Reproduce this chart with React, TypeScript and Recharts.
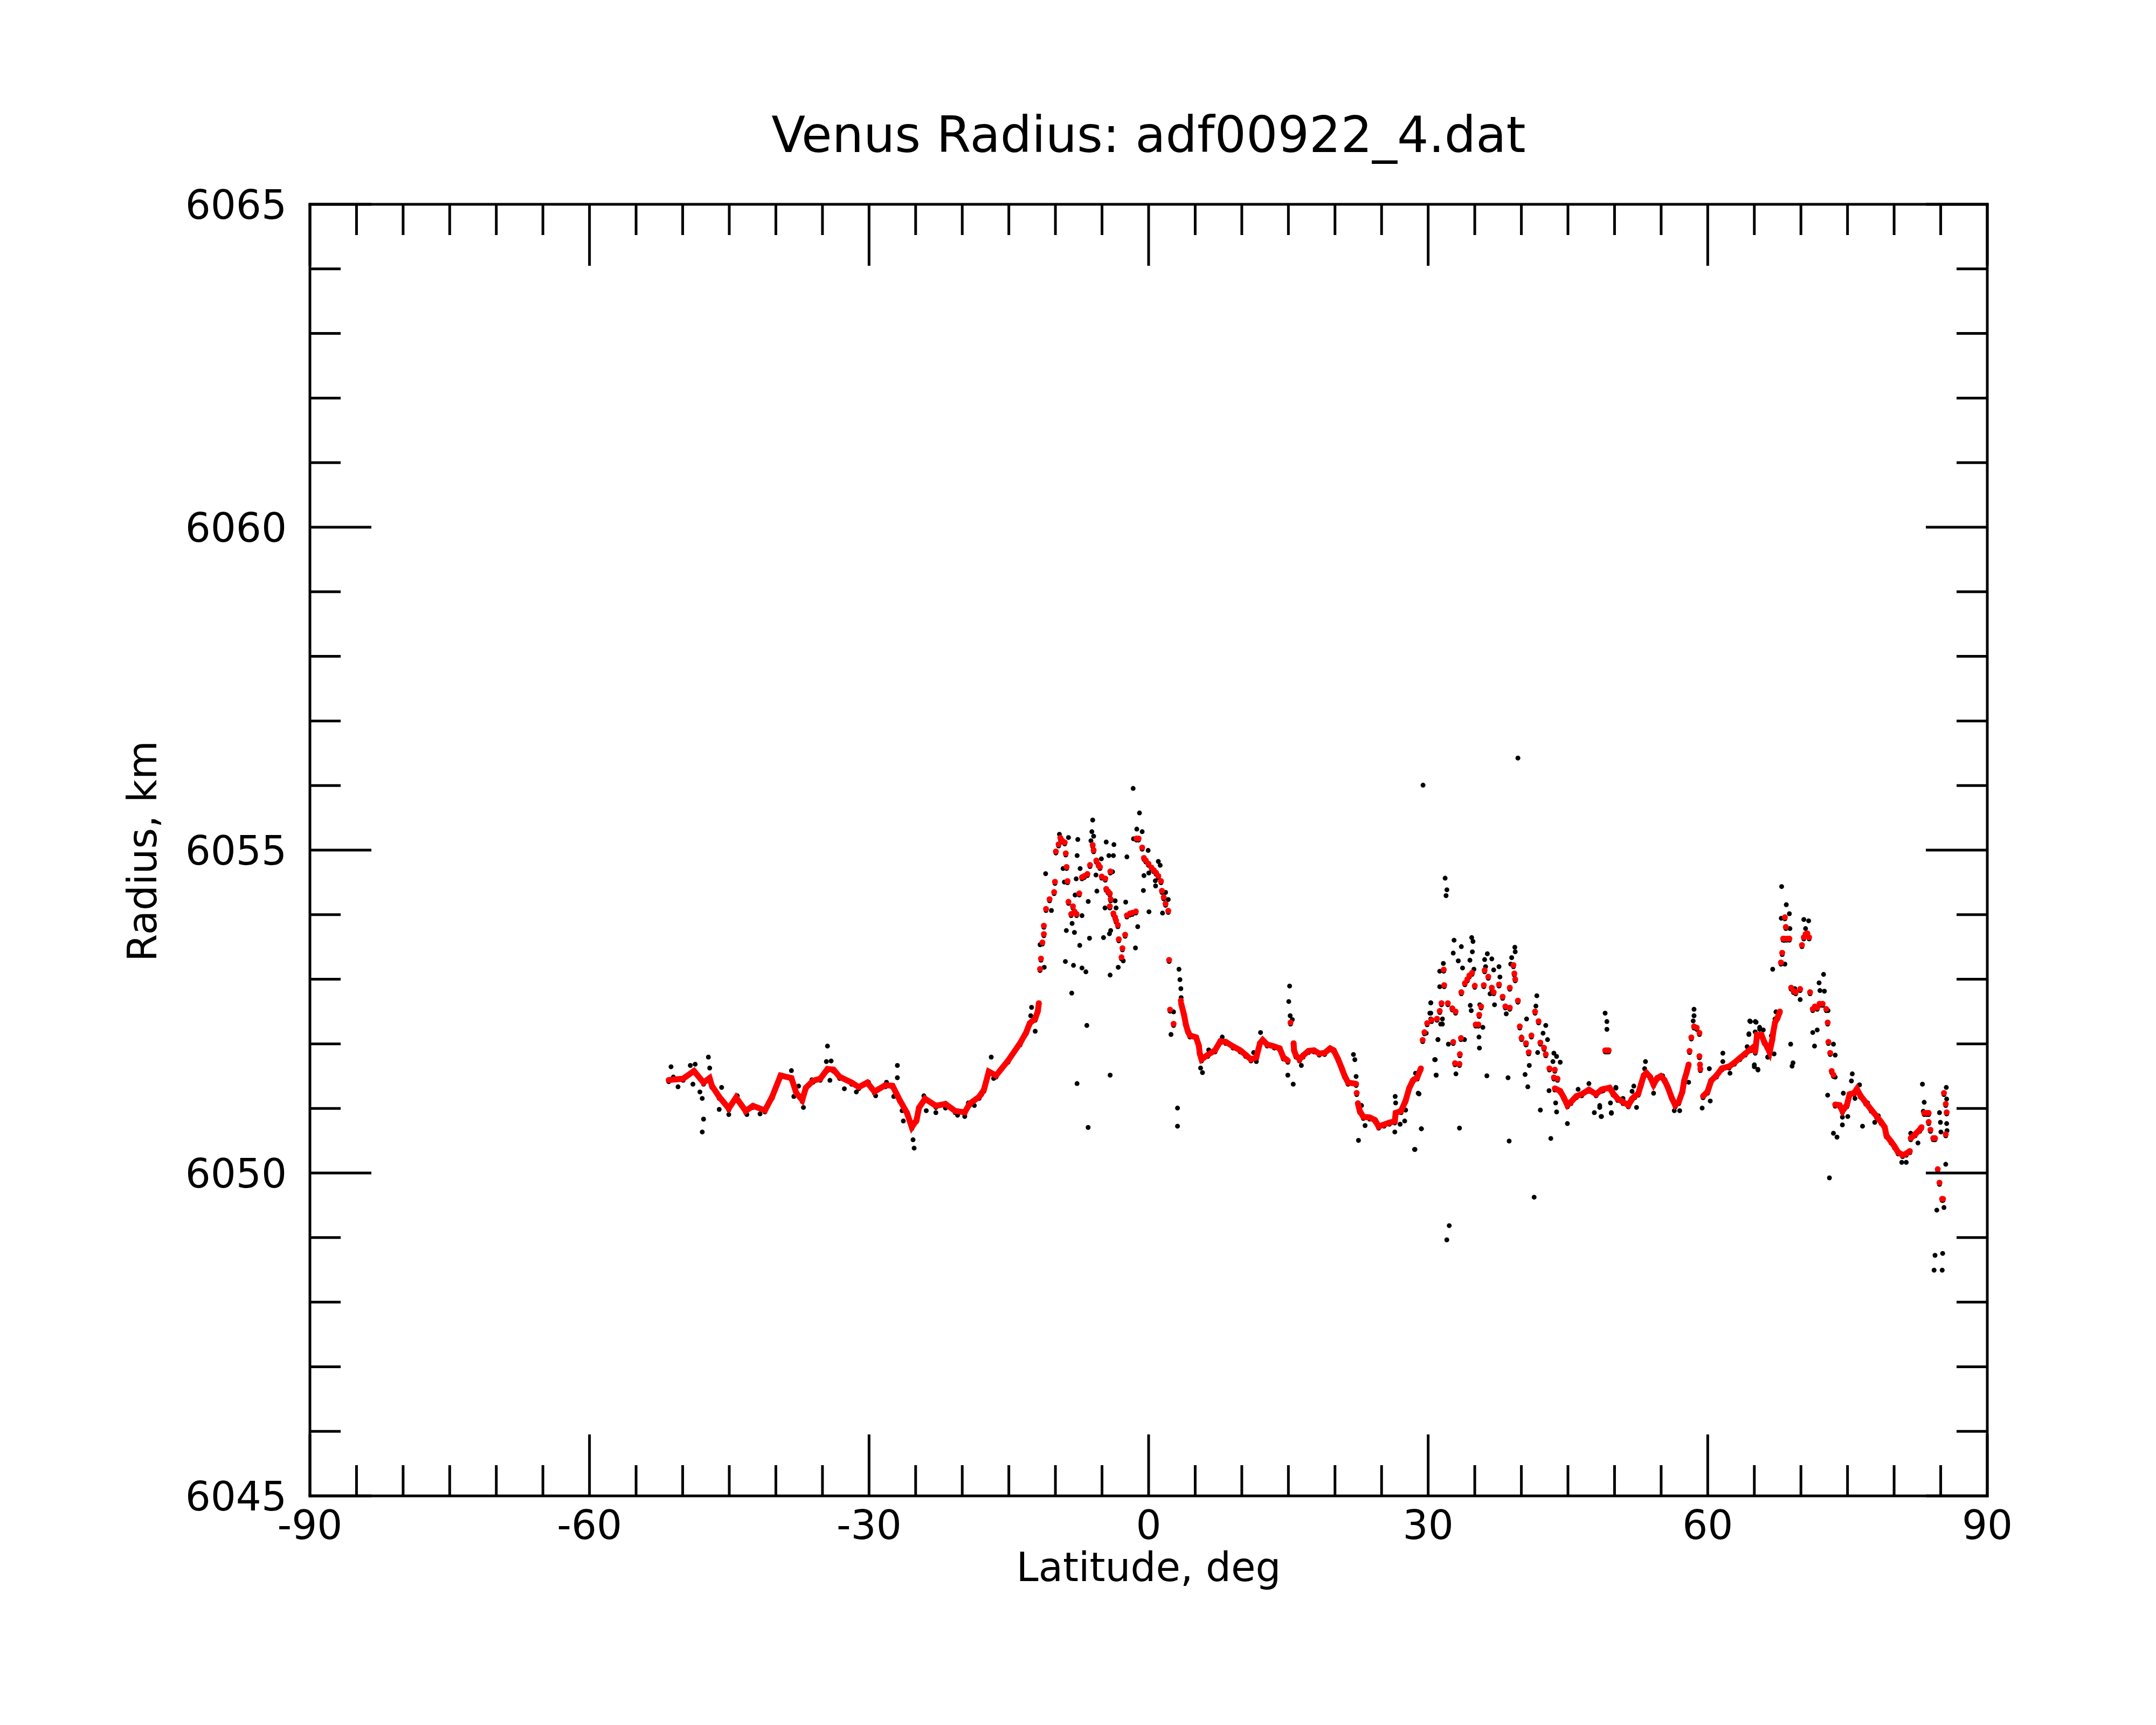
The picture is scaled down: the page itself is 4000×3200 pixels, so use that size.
import { Scatter, ScatterChart, XAxis, YAxis } from "recharts";

type Pair = [number, number];

const FONT = "DejaVu Sans, Verdana, sans-serif";

const X_TICKS = [
  -90, -85, -80, -75, -70, -65, -60, -55, -50, -45, -40, -35, -30, -25, -20, -15, -10, -5, 0,
  5, 10, 15, 20, 25, 30, 35, 40, 45, 50, 55, 60, 65, 70, 75, 80, 85, 90,
];
const X_LABELS = [-90, -60, -30, 0, 30, 60, 90];
const Y_TICKS = [
  6045, 6046, 6047, 6048, 6049, 6050, 6051, 6052, 6053, 6054, 6055, 6056, 6057, 6058, 6059,
  6060, 6061, 6062, 6063, 6064, 6065,
];
const Y_LABELS = [6045, 6050, 6055, 6060, 6065];

// filtered radius (red), continuous runs
const trackSouth: Pair[] = [
  [-51.5, 6051.44], [-49.95, 6051.46], [-48.79, 6051.58], [-47.76, 6051.4], [-47.11, 6051.47],
  [-46.86, 6051.35], [-46.08, 6051.18], [-45.05, 6051.0], [-44.27, 6051.17], [-43.24, 6050.96],
  [-42.46, 6051.04], [-41.17, 6050.97], [-40.4, 6051.18], [-39.49, 6051.51], [-38.33, 6051.47],
  [-37.81, 6051.24], [-37.17, 6051.13], [-36.78, 6051.32], [-36.0, 6051.43], [-35.23, 6051.46],
  [-34.46, 6051.61], [-33.81, 6051.6], [-33.16, 6051.49], [-31.87, 6051.4], [-31.1, 6051.33],
  [-30.19, 6051.4], [-29.42, 6051.26], [-28.25, 6051.36], [-27.48, 6051.35], [-26.71, 6051.13],
  [-25.93, 6050.93], [-25.41, 6050.71], [-24.9, 6050.82], [-24.64, 6051.01], [-23.99, 6051.15],
  [-22.83, 6051.04], [-21.8, 6051.07], [-20.76, 6050.96], [-19.73, 6050.94], [-19.22, 6051.07],
  [-18.18, 6051.18], [-17.67, 6051.29], [-17.15, 6051.57], [-16.37, 6051.51], [-15.08, 6051.74],
  [-13.79, 6052.01], [-13.13, 6052.18], [-12.75, 6052.32], [-12.17, 6052.39], [-11.88, 6052.51],
  [-11.78, 6052.63],
];
const trackEq: Pair[] = [
  [3.5, 6052.62], [3.8, 6052.45], [4.0, 6052.3], [4.2, 6052.2], [4.43, 6052.13], [5.1, 6052.1],
  [5.39, 6051.97], [5.49, 6051.85], [5.68, 6051.76], [6.35, 6051.83], [7.13, 6051.9], [7.7, 6052.04],
  [8.28, 6052.03], [9.06, 6051.96], [9.83, 6051.9], [10.41, 6051.83], [10.98, 6051.76],
  [11.56, 6051.79], [11.95, 6052.01], [12.24, 6052.06], [12.72, 6051.99], [13.49, 6051.96],
  [14.07, 6051.93], [14.46, 6051.79], [14.94, 6051.74],
];
const track15: Pair[] = [
  [15.56, 6052.01], [15.61, 6051.9], [15.81, 6051.82], [16.19, 6051.76], [16.58, 6051.82],
  [17.16, 6051.89], [17.74, 6051.9], [18.31, 6051.85], [18.89, 6051.86], [19.47, 6051.93],
  [19.86, 6051.9], [20.34, 6051.76], [20.73, 6051.62], [21.02, 6051.51], [21.4, 6051.4],
  [22.27, 6051.38],
];
const track23: Pair[] = [
  [22.46, 6051.08], [22.66, 6050.96], [23.04, 6050.87], [23.72, 6050.86], [24.29, 6050.82],
  [24.68, 6050.72], [25.26, 6050.75], [25.84, 6050.78], [26.42, 6050.8], [26.51, 6050.93],
  [27.09, 6050.96], [27.58, 6051.12], [27.96, 6051.31], [28.35, 6051.43], [28.83, 6051.48],
  [29.22, 6051.62],
];
const track44: Pair[] = [
  [43.59, 6051.31], [44.17, 6051.27], [44.55, 6051.17], [44.94, 6051.05], [45.32, 6051.1],
  [45.9, 6051.19], [46.48, 6051.22], [47.25, 6051.29], [48.02, 6051.22], [48.6, 6051.29],
  [48.79, 6051.3], [49.47, 6051.32], [49.85, 6051.23], [50.33, 6051.15], [50.91, 6051.1],
  [51.49, 6051.05], [51.88, 6051.15], [52.17, 6051.19], [52.55, 6051.23], [52.84, 6051.37],
  [53.13, 6051.51], [53.42, 6051.55], [53.81, 6051.49], [54.19, 6051.37], [54.58, 6051.47],
  [54.96, 6051.5], [55.35, 6051.44], [55.74, 6051.32], [56.12, 6051.17], [56.51, 6051.05],
  [56.89, 6051.1], [57.28, 6051.26], [57.47, 6051.43], [57.76, 6051.57], [57.95, 6051.68],
];
const track59: Pair[] = [
  [59.5, 6051.19], [59.98, 6051.26], [60.37, 6051.43], [60.94, 6051.51], [61.52, 6051.62],
  [62.3, 6051.65], [62.87, 6051.71], [63.45, 6051.78], [64.03, 6051.85], [64.61, 6051.92],
  [65.0, 6051.96], [65.1, 6051.88], [65.29, 6052.14], [65.77, 6052.14], [66.06, 6052.03],
  [66.35, 6051.96], [66.64, 6051.87], [66.93, 6052.07], [67.03, 6052.18], [67.22, 6052.33],
  [67.51, 6052.41], [67.74, 6052.5],
];
const track73: Pair[] = [
  [73.68, 6051.06], [74.16, 6051.05], [74.45, 6050.96], [74.93, 6051.05], [75.22, 6051.22],
  [75.71, 6051.24], [76.0, 6051.3], [76.38, 6051.2], [76.96, 6051.09], [77.54, 6050.98],
  [78.12, 6050.88], [78.6, 6050.79], [78.99, 6050.71], [79.18, 6050.58], [79.66, 6050.49],
  [80.05, 6050.41], [80.43, 6050.32], [80.91, 6050.28], [81.3, 6050.3], [81.69, 6050.34],
];
const track82: Pair[] = [[81.78, 6050.54], [82.26, 6050.6], [82.75, 6050.67], [82.94, 6050.71]];

// filtered radius (red), isolated points
const redPeak: Pair[] = [
  [-11.65, 6053.16], [-11.55, 6053.32], [-11.4, 6053.57], [-11.24, 6053.7], [-11.24, 6053.83],
  [-11.01, 6054.09], [-10.63, 6054.24], [-10.14, 6054.35], [-10.05, 6054.51], [-9.95, 6054.98],
  [-9.66, 6055.09], [-9.47, 6055.19], [-9.3, 6055.15], [-9.0, 6055.12], [-8.89, 6054.95],
  [-8.8, 6054.74], [-8.7, 6054.52], [-8.6, 6054.2], [-8.31, 6054.01], [-8.12, 6054.13],
  [-7.95, 6054.05], [-7.73, 6054.01], [-7.44, 6054.33], [-7.15, 6054.58], [-6.9, 6054.6],
  [-6.57, 6054.63], [-6.29, 6054.77], [-6.0, 6055.08], [-5.9, 6055.0], [-5.61, 6054.84],
  [-5.4, 6054.78], [-5.22, 6054.74], [-5.03, 6054.59], [-4.65, 6054.56], [-4.55, 6054.4],
  [-4.35, 6054.36], [-4.16, 6054.33], [-4.07, 6054.24], [-4.11, 6054.67], [-4.16, 6054.13],
  [-3.78, 6054.02], [-3.6, 6053.96], [-3.49, 6053.91], [-3.3, 6053.84], [-3.2, 6053.62],
  [-2.91, 6053.34], [-2.81, 6053.48], [-2.52, 6053.69], [-2.33, 6053.99], [-2.0, 6054.02],
  [-1.75, 6054.03], [-1.37, 6054.05], [-1.3, 6055.18], [-1.08, 6055.18], [-0.69, 6055.04],
  [-0.5, 6054.88], [-0.3, 6054.84], [-0.02, 6054.79], [0.3, 6054.73], [0.56, 6054.69],
  [0.8, 6054.65], [1.04, 6054.6], [1.33, 6054.52], [1.43, 6054.37], [1.62, 6054.27],
  [1.82, 6054.17], [2.11, 6054.06], [2.2, 6053.3], [2.3, 6052.53], [2.68, 6052.31],
  [3.46, 6052.67],
];
const redNorth: Pair[] = [
  [15.23, 6052.33], [22.33, 6051.24], [29.41, 6052.06], [29.6, 6052.18], [29.89, 6052.32],
  [30.37, 6052.37], [30.95, 6052.39], [31.24, 6052.51], [31.43, 6052.63], [31.72, 6052.91],
  [31.67, 6053.15], [32.11, 6052.63], [32.59, 6052.55], [32.94, 6052.5], [32.69, 6052.03],
  [33.52, 6052.09], [33.4, 6051.84], [32.88, 6051.7], [33.36, 6051.69], [33.56, 6052.8],
  [33.94, 6052.94], [34.2, 6053.0], [34.42, 6053.06], [34.71, 6053.1], [35.0, 6052.9],
  [35.68, 6052.58], [35.48, 6052.45], [35.1, 6052.3], [35.39, 6052.3], [36.06, 6053.14],
  [36.45, 6053.04], [35.97, 6052.91], [36.83, 6052.87], [37.03, 6052.8], [37.6, 6052.92],
  [37.99, 6052.73], [38.28, 6052.58], [38.76, 6052.56], [38.76, 6052.87], [39.15, 6053.22],
  [39.25, 6053.09], [39.34, 6053.0], [39.63, 6052.67], [39.83, 6052.27], [40.02, 6052.09],
  [40.5, 6052.01], [40.79, 6051.87], [41.08, 6052.13], [41.47, 6052.5], [41.85, 6052.35],
  [42.04, 6052.02], [42.43, 6051.94], [42.62, 6051.84], [43.01, 6051.62], [43.59, 6051.6],
  [43.49, 6051.48], [43.88, 6051.46], [49.0, 6051.9], [49.2, 6051.9], [49.37, 6051.9],
  [58.05, 6051.89], [58.24, 6052.1], [58.53, 6052.27], [58.82, 6052.25], [59.11, 6052.17],
  [59.11, 6051.81], [59.17, 6051.68], [59.21, 6051.61], [67.86, 6053.26], [67.99, 6053.41],
  [68.09, 6053.63], [68.2, 6053.63], [68.38, 6053.81], [68.28, 6053.96], [68.5, 6053.63],
  [68.76, 6053.63], [68.95, 6052.87], [69.2, 6052.82], [69.44, 6052.8], [69.92, 6052.85],
  [70.11, 6053.53], [70.31, 6053.65], [70.5, 6053.7], [70.69, 6053.71], [70.88, 6053.65],
  [70.98, 6052.8], [71.27, 6052.54], [71.5, 6052.58], [71.75, 6052.56], [72.0, 6052.62],
  [72.33, 6052.62], [72.72, 6052.54], [72.87, 6052.33], [72.95, 6052.03], [73.14, 6051.86],
  [73.3, 6051.58], [73.49, 6051.52], [83.23, 6050.93], [83.5, 6050.93], [83.71, 6050.93],
  [83.71, 6050.79], [83.9, 6050.67], [84.2, 6050.54], [84.39, 6050.54], [84.68, 6050.06],
  [84.87, 6049.85], [85.15, 6049.6], [85.25, 6049.6], [85.54, 6050.6], [85.64, 6050.94],
  [85.54, 6051.07], [85.35, 6051.24],
];

// raw radius (black) away from the filtered track
const rawSouth: Pair[] = [
  [-51.25, 6051.67], [-51.0, 6051.51], [-50.5, 6051.36], [-49.18, 6051.69], [-48.66, 6051.71],
  [-48.9, 6051.4], [-47.24, 6051.82], [-47.1, 6051.65], [-48.15, 6051.28], [-47.9, 6051.18],
  [-47.76, 6050.86], [-47.9, 6050.66], [-46.08, 6051.01], [-45.82, 6051.35], [-45.05, 6050.93],
  [-44.14, 6051.22], [-43.11, 6050.93], [-41.7, 6050.94], [-39.36, 6051.54], [-38.33, 6051.61],
  [-37.56, 6051.37], [-38.07, 6051.21], [-37.04, 6051.04], [-36.13, 6051.47], [-34.46, 6051.99],
  [-34.58, 6051.75], [-34.07, 6051.76], [-34.2, 6051.46], [-32.65, 6051.33], [-31.36, 6051.28],
  [-30.06, 6051.43], [-29.29, 6051.22], [-28.13, 6051.43], [-26.96, 6051.69], [-26.96, 6051.5],
  [-27.35, 6051.21], [-26.45, 6050.99], [-26.32, 6050.83], [-25.28, 6050.54], [-25.16, 6050.41],
  [-24.12, 6051.22], [-23.86, 6050.99], [-22.83, 6050.96], [-21.8, 6051.03], [-20.5, 6050.92],
  [-19.73, 6050.9], [-19.34, 6051.11], [-18.7, 6051.07], [-17.92, 6051.24], [-16.89, 6051.82],
  [-16.63, 6051.49],
];
const rawPeak: Pair[] = [
  [-1.66, 6055.98], [-0.98, 6055.6], [-6.0, 6055.49], [-1.27, 6055.35], [-0.69, 6055.31],
  [-9.57, 6055.27], [-8.6, 6055.22], [-7.6, 6055.19], [-6.09, 6055.31], [-5.9, 6055.24],
  [-6.19, 6055.17], [-4.55, 6055.15], [-3.72, 6055.11], [-1.62, 6055.2], [-0.05, 6055.02],
  [-7.67, 6054.94], [-4.26, 6054.94], [-3.78, 6054.94], [-2.33, 6054.92], [-5.07, 6054.89],
  [-11.05, 6054.66], [-9.18, 6054.74], [-7.35, 6054.74], [-5.65, 6054.64], [-3.87, 6054.69],
  [1.04, 6054.85], [1.24, 6054.79], [-0.5, 6054.63], [0.02, 6054.67], [0.72, 6054.55],
  [0.75, 6054.47], [-7.77, 6054.58], [-9.04, 6054.53], [-5.55, 6054.39], [-7.89, 6054.33],
  [-0.56, 6054.4], [1.82, 6054.37], [-6.48, 6054.23], [-3.59, 6054.24], [-2.46, 6054.22],
  [2.11, 6054.26], [-10.43, 6054.09], [-4.68, 6054.13], [-3.49, 6054.13], [-7.15, 6054.01],
  [0.04, 6054.07], [1.49, 6054.05], [-8.21, 6053.89], [-1.17, 6053.84], [-8.83, 6053.78],
  [-7.96, 6053.75], [-4.07, 6053.78], [-4.2, 6053.73], [-6.34, 6053.66], [-4.84, 6053.67],
  [-7.39, 6053.55], [-1.41, 6053.51], [-11.65, 6053.56], [-8.93, 6053.3], [-8.06, 6053.24],
  [-7.15, 6053.2], [-6.73, 6053.14], [-3.26, 6053.21], [-4.13, 6053.09], [-2.72, 6053.31],
  [-11.2, 6053.21], [3.26, 6053.18], [3.36, 6053.02], [3.46, 6052.88], [3.49, 6052.74],
  [-8.25, 6052.81], [-6.63, 6052.31], [-12.56, 6052.59], [-12.65, 6052.46], [-12.17, 6052.22],
  [2.4, 6052.17], [2.68, 6052.52], [-7.68, 6051.41], [-6.49, 6050.73], [-4.13, 6051.54],
  [3.1, 6051.03], [3.1, 6050.75],
];
const rawMid: Pair[] = [
  [15.13, 6052.92], [15.04, 6052.68], [15.19, 6052.46], [15.42, 6052.4], [12.01, 6052.2],
  [7.9, 6052.13], [6.45, 6051.93], [5.78, 6051.58], [5.58, 6051.65], [14.94, 6051.54],
  [15.52, 6051.4], [11.27, 6051.89], [11.56, 6051.75], [16.39, 6051.69], [21.98, 6051.86],
  [22.13, 6051.78], [22.27, 6051.52], [22.52, 6050.53], [22.85, 6051.07], [23.23, 6050.76],
  [26.46, 6051.21], [26.51, 6051.11], [26.42, 6050.66], [26.99, 6050.78], [27.48, 6050.83],
  [28.58, 6050.39], [29.27, 6050.71], [28.64, 6051.57], [29.02, 6051.25], [30.28, 6052.66],
  [30.28, 6052.5], [30.76, 6051.78], [30.86, 6051.54], [31.05, 6052.09], [31.34, 6052.33],
  [31.24, 6052.91],
];
const rawNorth: Pair[] = [
  [29.45, 6056.03], [39.63, 6056.45], [31.82, 6054.59], [32.01, 6054.41], [31.92, 6054.32],
  [32.78, 6053.63], [33.56, 6053.53], [34.67, 6053.67], [34.81, 6053.61], [32.69, 6053.43],
  [34.74, 6053.45], [36.35, 6053.42], [36.06, 6053.33], [36.83, 6053.34], [39.3, 6053.52],
  [39.34, 6053.45], [38.96, 6053.36], [31.63, 6053.27], [33.23, 6053.31], [34.48, 6053.32],
  [33.69, 6053.2], [34.91, 6053.18], [36.16, 6053.22], [37.03, 6053.17], [37.6, 6053.22],
  [37.7, 6053.06], [38.86, 6053.26], [31.24, 6053.15], [41.66, 6052.77], [41.56, 6052.61],
  [30.28, 6052.66], [31.43, 6052.66], [34.52, 6052.62], [34.62, 6052.54], [35.54, 6052.63],
  [36.64, 6052.8], [37.12, 6052.63], [38.38, 6052.49], [30.18, 6052.5], [30.28, 6052.41],
  [31.53, 6052.41], [31.53, 6052.33], [40.56, 6052.41], [42.62, 6052.31], [35.87, 6052.28],
  [29.79, 6052.19], [42.33, 6052.19], [42.81, 6052.09], [35.45, 6052.13], [31.05, 6052.09],
  [32.17, 6052.02], [33.9, 6052.09], [35.5, 6051.96], [40.02, 6052.13], [40.5, 6052.01],
  [41.75, 6051.89], [43.49, 6051.88], [43.78, 6051.83], [43.39, 6051.75], [44.17, 6051.74],
  [30.7, 6051.78], [32.98, 6051.56], [30.86, 6051.54], [40.85, 6051.69], [40.4, 6051.55],
  [36.3, 6051.53], [38.57, 6051.5], [40.69, 6051.36], [42.97, 6051.3], [47.25, 6051.41],
  [46.09, 6051.32], [50.15, 6051.34], [28.44, 6051.48], [28.93, 6051.26], [27.58, 6051.0],
  [43.68, 6051.11], [43.78, 6050.97], [42.04, 6051.0], [44.94, 6050.79], [48.41, 6051.07],
  [47.83, 6050.96], [48.56, 6050.9], [49.66, 6050.95], [29.27, 6050.71], [33.36, 6050.72],
  [28.54, 6050.39], [38.69, 6050.52], [43.16, 6050.56], [41.37, 6049.65], [32.26, 6049.21],
  [32.0, 6048.99], [48.99, 6052.5], [49.18, 6052.37], [49.18, 6052.25],
];
const rawFar: Pair[] = [
  [48.6, 6050.9], [48.41, 6051.04], [49.66, 6050.96], [49.56, 6051.11], [50.14, 6051.35],
  [50.91, 6051.18], [52.36, 6051.04], [51.88, 6051.29], [52.07, 6051.37], [53.32, 6051.75],
  [53.23, 6051.64], [54.19, 6051.26], [55.16, 6051.53], [56.41, 6050.99], [56.99, 6050.99],
  [58.53, 6052.56], [58.53, 6052.46], [58.44, 6052.38], [57.95, 6051.43], [59.4, 6051.03],
  [60.27, 6051.14], [60.17, 6051.64], [61.62, 6051.88], [61.62, 6051.75], [62.39, 6051.57],
  [64.51, 6052.38], [65.19, 6052.36], [64.42, 6052.17], [65.09, 6052.21], [65.57, 6052.28],
  [65.0, 6051.67], [65.38, 6051.63], [66.44, 6051.82], [66.83, 6052.15], [67.93, 6054.46],
  [68.43, 6054.18], [68.76, 6054.04], [67.89, 6053.97], [68.82, 6053.81], [68.28, 6053.63],
  [67.99, 6053.41], [68.28, 6053.26], [66.97, 6053.18], [70.31, 6053.95], [70.83, 6053.93],
  [70.5, 6053.81], [72.43, 6053.1], [71.95, 6052.97], [72.04, 6052.85], [72.52, 6052.84],
  [69.34, 6052.88], [69.92, 6052.71], [72.91, 6052.54], [71.75, 6052.24], [71.27, 6052.2],
  [71.46, 6051.99], [68.9, 6052.02], [69.15, 6051.73], [69.05, 6051.68], [64.58, 6052.37],
  [65.1, 6052.37], [64.42, 6052.18], [65.58, 6052.25], [65.96, 6052.24], [67.32, 6052.52],
  [67.22, 6052.41], [64.23, 6051.98], [65.0, 6051.7], [65.39, 6051.62], [66.45, 6051.82],
  [67.12, 6051.87], [73.49, 6052.02], [73.68, 6051.85], [73.68, 6051.51], [72.87, 6051.23],
  [73.49, 6050.64], [73.87, 6050.58], [73.06, 6049.95], [74.55, 6051.26], [74.45, 6050.89],
  [74.45, 6050.77], [75.03, 6050.9], [75.51, 6051.56], [75.42, 6051.45], [76.29, 6051.39],
  [75.8, 6051.18], [76.61, 6050.75], [77.15, 6051.11], [77.35, 6051.03], [78.31, 6050.91],
  [77.92, 6050.81], [80.82, 6050.19], [81.3, 6050.19], [81.78, 6050.64], [82.56, 6050.49],
  [83.04, 6051.4], [83.23, 6051.12], [83.13, 6050.98], [84.87, 6050.96], [84.97, 6050.81],
  [85.02, 6050.66], [85.6, 6051.35], [85.64, 6051.17], [85.64, 6050.79], [85.68, 6050.68],
  [85.54, 6050.16], [84.58, 6049.45], [85.35, 6049.49], [84.39, 6048.75], [85.21, 6048.78],
  [84.29, 6048.52], [85.16, 6048.52],
];

const toPoints = (pairs: Pair[]) => pairs.map(([lat, r]) => ({ lat, r }));

const tracks = [trackSouth, trackEq, track15, track23, track44, track59, track73, track82];
const rawData = toPoints([
  ...tracks.flat(),
  ...redPeak,
  ...redNorth,
  ...rawSouth,
  ...rawPeak,
  ...rawMid,
  ...rawNorth,
  ...rawFar,
]);
const redLoose = toPoints([...redPeak, ...redNorth]);

const MAJOR = 114;
const MINOR = 57;
const LABEL_SIZE = 74;

const BottomTick = (props: any) => {
  const { x, y, payload } = props;
  const major = X_LABELS.includes(payload.value);
  return (
    <g>
      <line x1={x} x2={x} y1={y} y2={y - (major ? MAJOR : MINOR)} stroke="#000" strokeWidth={5} />
      {major && (
        <text x={x} y={y + 80} textAnchor="middle" fontSize={LABEL_SIZE} fontFamily={FONT} fill="#000">
          {payload.value}
        </text>
      )}
    </g>
  );
};

const TopTick = (props: any) => {
  const { x, y, payload } = props;
  const major = X_LABELS.includes(payload.value);
  return <line x1={x} x2={x} y1={y} y2={y + (major ? MAJOR : MINOR)} stroke="#000" strokeWidth={5} />;
};

const LeftTick = (props: any) => {
  const { x, y, payload } = props;
  const major = Y_LABELS.includes(payload.value);
  return (
    <g>
      <line x1={x} x2={x + (major ? MAJOR : MINOR)} y1={y} y2={y} stroke="#000" strokeWidth={5} />
      {major && (
        <text x={x - 43} y={y + 27} textAnchor="end" fontSize={LABEL_SIZE} fontFamily={FONT} fill="#000">
          {payload.value}
        </text>
      )}
    </g>
  );
};

const RightTick = (props: any) => {
  const { x, y, payload } = props;
  const major = Y_LABELS.includes(payload.value);
  return <line x1={x} x2={x - (major ? MAJOR : MINOR)} y1={y} y2={y} stroke="#000" strokeWidth={5} />;
};

const blackDot = (p: any) => <circle cx={p.cx} cy={p.cy + 3} r={4.5} fill="#000" />;
const redDot = (p: any) => <circle cx={p.cx} cy={p.cy} r={5.5} fill="#ff0000" />;
const noDot = () => <g />;

const axisLine = { stroke: "#000", strokeWidth: 5, strokeLinecap: "square" as const };

export default function App() {
  return (
    <div style={{ position: "absolute", left: 0, top: 0, width: 4000, height: 3200, background: "#fff" }}>
      <ScatterChart width={4000} height={3200} margin={{ top: 369, right: 303, bottom: 415, left: 565 }}>
        <XAxis
          type="number"
          dataKey="lat"
          domain={[-90, 90]}
          ticks={X_TICKS}
          interval={0}
          height={10}
          tickSize={0}
          tickMargin={0}
          tickLine={false}
          axisLine={axisLine}
          tick={BottomTick}
        />
        <XAxis
          xAxisId="top"
          orientation="top"
          type="number"
          dataKey="lat"
          domain={[-90, 90]}
          ticks={X_TICKS}
          interval={0}
          height={10}
          tickSize={0}
          tickMargin={0}
          tickLine={false}
          axisLine={axisLine}
          tick={TopTick}
        />
        <YAxis
          type="number"
          dataKey="r"
          domain={[6045, 6065]}
          ticks={Y_TICKS}
          interval={0}
          width={10}
          tickSize={0}
          tickMargin={0}
          tickLine={false}
          axisLine={axisLine}
          tick={LeftTick}
        />
        <YAxis
          yAxisId="right"
          orientation="right"
          type="number"
          dataKey="r"
          domain={[6045, 6065]}
          ticks={Y_TICKS}
          interval={0}
          width={10}
          tickSize={0}
          tickMargin={0}
          tickLine={false}
          axisLine={axisLine}
          tick={RightTick}
        />
        <Scatter
          data={rawData}
          xAxisId="top"
          yAxisId="right"
          shape={noDot}
          legendType="none"
          isAnimationActive={false}
        />
        <Scatter data={rawData} shape={blackDot} isAnimationActive={false} />
        <Scatter data={redLoose} shape={redDot} isAnimationActive={false} />
        {tracks.map((t, i) => (
          <Scatter
            key={i}
            data={toPoints(t)}
            shape={redDot}
            line={{ stroke: "#ff0000", strokeWidth: 11 }}
            lineType="joint"
            isAnimationActive={false}
          />
        ))}
        <text x={2131} y={282} textAnchor="middle" fontSize={92} fontFamily={FONT} fill="#000">
          Venus Radius: adf00922_4.dat
        </text>
        <text x={2131} y={2933} textAnchor="middle" fontSize={LABEL_SIZE} fontFamily={FONT} fill="#000">
          Latitude, deg
        </text>
        <text
          x={290}
          y={1579}
          transform="rotate(-90 290 1579)"
          textAnchor="middle"
          fontSize={LABEL_SIZE}
          fontFamily={FONT}
          fill="#000"
        >
          Radius, km
        </text>
      </ScatterChart>
    </div>
  );
}
